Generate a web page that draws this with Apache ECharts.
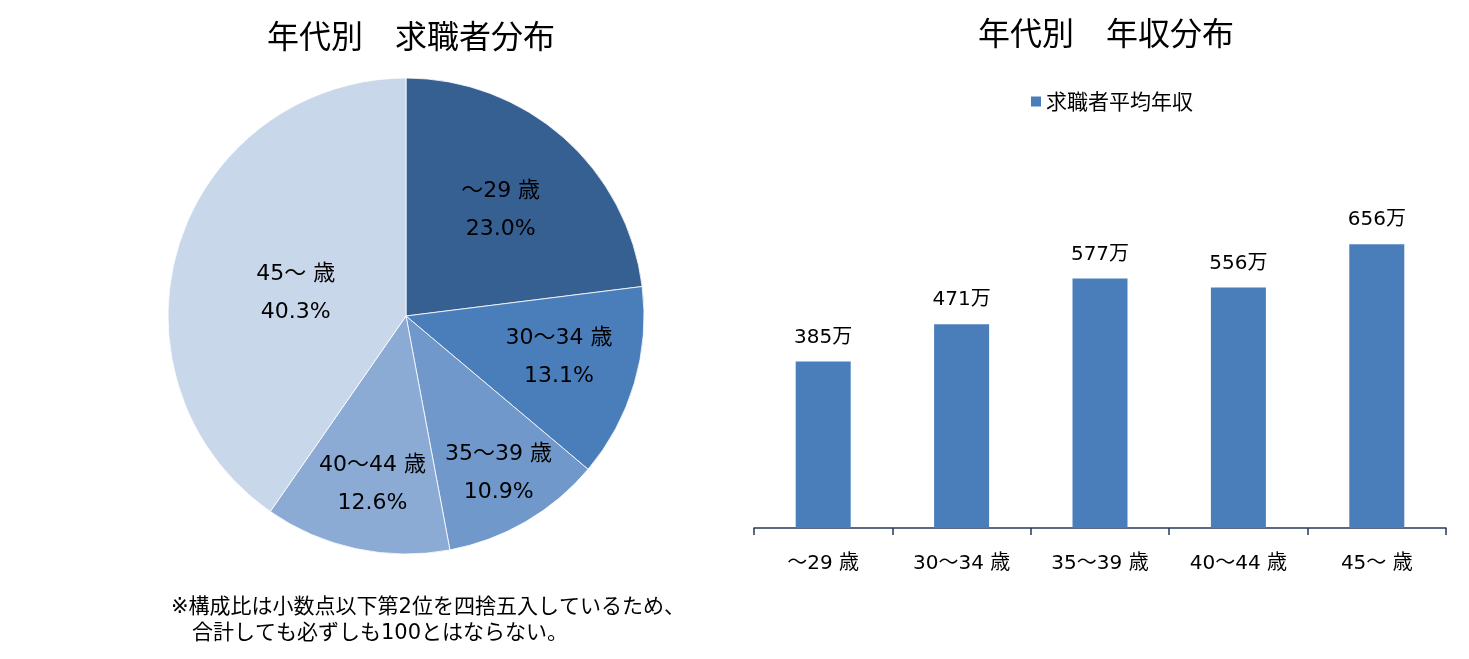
<!DOCTYPE html>
<html><head><meta charset="utf-8">
<script src="https://cdn.jsdelivr.net/npm/echarts@6/dist/echarts.min.js"></script>
<style>html,body{margin:0;padding:0;background:#fff}#c{width:1469px;height:659px}</style>
</head><body><div id="c"></div>
<script>
const ageGroups = ['～29 歳', '30～34 歳', '35～39 歳', '40～44 歳', '45～ 歳'];
const sharePct = [23.0, 13.1, 10.9, 12.6, 40.3];
const avgIncome = [385, 471, 577, 556, 656];
const pieColors = ['#376092', '#4A7EBB', '#7098CA', '#8BAAD4', '#C8D7EA'];
const labelNudge = [[-2, 4], [13, 0], [19, 31], [-3, 26], [29, 21]];
const FONT = '"DejaVu Sans", "Noto Sans CJK JP", sans-serif';
const CJK = '"Noto Sans CJK JP", sans-serif';

const chart = echarts.init(document.getElementById('c'));
chart.setOption({
  animation: false,
  textStyle: { fontFamily: FONT },
  title: [
    { text: '年代別　求職者分布', left: 406, top: 15, textAlign: 'center',
      textStyle: { fontSize: 32, fontWeight: 'normal', color: '#000', fontFamily: CJK } },
    { text: '年代別　年収分布', left: 1101, top: 12, textAlign: 'center',
      textStyle: { fontSize: 32, fontWeight: 'normal', color: '#000', fontFamily: CJK } },
    { text: '※構成比は小数点以下第2位を四捨五入しているため、\n　合計しても必ずしも100とはならない。', left: 166, top: 590,
      textStyle: { fontSize: 21, fontWeight: 'normal', color: '#000', lineHeight: 26, fontFamily: FONT } }
  ],
  legend: {
    data: ['求職者平均年収'], left: 1026, top: 86, icon: 'rect', itemWidth: 10, itemHeight: 10, itemGap: 5,
    textStyle: { fontSize: 21, color: '#000', fontFamily: CJK }
  },
  grid: { left: 754, right: 23, top: 182, bottom: 131 },
  xAxis: {
    type: 'category', data: ageGroups,
    axisLine: { show: true, lineStyle: { color: '#263A57', width: 1.5 } },
    axisTick: { show: true, length: 7, lineStyle: { color: '#263A57', width: 1.5 } },
    axisLabel: { fontSize: 20, color: '#000', margin: 26, fontFamily: FONT }
  },
  yAxis: { type: 'value', min: 0, max: 800, show: false, splitLine: { show: false } },
  series: [
    { type: 'pie', center: [406, 316], radius: [0, 238], startAngle: 90, silent: true, z: 1,
      label: { show: false }, labelLine: { show: false },
      itemStyle: { borderColor: '#fff', borderWidth: 0.8 },
      data: ageGroups.map((n, i) => ({ name: n, value: sharePct[i], itemStyle: { color: pieColors[i] } })) },
    { type: 'pie', center: [406, 316], radius: [48, 238], startAngle: 90, silent: true, z: 2,
      itemStyle: { color: 'rgba(0,0,0,0)', borderWidth: 0 },
      label: { show: true, position: 'inside', fontSize: 22, color: '#000', lineHeight: 38, fontFamily: FONT,
        formatter: p => p.name + '\n' + p.value.toFixed(1) + '%' },
      labelLine: { show: false },
      data: ageGroups.map((n, i) => ({ name: n, value: sharePct[i], label: { offset: labelNudge[i] } })) },
    { type: 'bar', name: '求職者平均年収', data: avgIncome, barWidth: 55,
      itemStyle: { color: '#4A7EBB', borderWidth: 0 },
      label: { show: true, position: 'top', distance: 14, fontSize: 20, color: '#000', fontFamily: FONT,
        formatter: p => p.value + '万' } }
  ]
});
</script></body></html>
